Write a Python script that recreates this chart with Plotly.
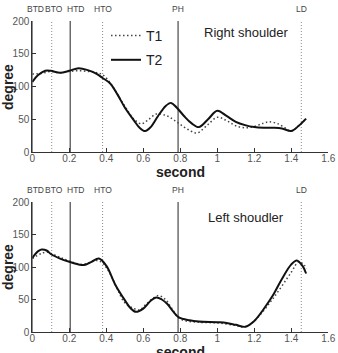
import plotly.graph_objects as go

# ---- data ----
events = ["BTD", "BTO", "HTD", "HTO", "PH", "LD"]
event_t = [0.0, 0.105, 0.205, 0.38, 0.788, 1.454]
event_solid = [True, False, True, False, True, False]
event_shift = [3, 2, 5, 0, 0, 0]

r_t2_x = [0, 0.03, 0.07, 0.1, 0.15, 0.2, 0.25, 0.3, 0.35, 0.38, 0.42, 0.46, 0.5, 0.55, 0.58, 0.61,
          0.64, 0.68, 0.72, 0.75, 0.78, 0.82, 0.86, 0.9, 0.95, 1.0, 1.05, 1.1, 1.15, 1.2, 1.25, 1.3,
          1.35, 1.4, 1.44, 1.48]
r_t2_y = [107, 117, 124, 124, 121, 124, 128, 125, 119, 113, 105, 88, 68, 48, 37, 32,
          38, 55, 70, 75, 68, 55, 44, 38, 50, 63, 55, 46, 41, 38, 37, 37,
          36, 32, 40, 51]
r_t1_x = [0, 0.05, 0.1, 0.15, 0.2, 0.25, 0.3, 0.35, 0.38, 0.42, 0.46, 0.5, 0.55, 0.59, 0.63, 0.67,
          0.72, 0.76, 0.8, 0.85, 0.89, 0.95, 1.0, 1.05, 1.1, 1.15, 1.2, 1.25, 1.28, 1.32, 1.36, 1.4,
          1.44, 1.48]
r_t1_y = [119, 120, 123, 121, 123, 124, 123, 121, 118, 106, 88, 70, 50, 43, 50, 58,
          56, 50, 42, 33, 29, 42, 53, 48, 40, 37, 39, 44, 46, 44, 38, 32,
          40, 51]

l_t2_x = [0, 0.03, 0.05, 0.08, 0.1, 0.15, 0.2, 0.25, 0.28, 0.32, 0.36, 0.4, 0.45, 0.5, 0.53, 0.56,
          0.6, 0.64, 0.67, 0.7, 0.73, 0.76, 0.79, 0.85, 0.9, 1.0, 1.05, 1.1, 1.15, 1.2, 1.25, 1.3,
          1.35, 1.4, 1.43, 1.46, 1.48]
l_t2_y = [114, 124, 127, 125, 120, 113, 108, 104, 103, 108, 113, 102, 72, 49, 37, 31,
          36, 48, 53, 50, 43, 32, 23, 18, 16, 15, 14, 11, 8, 17, 35, 56,
          82, 104, 110, 102, 90]
l_t1_x = [0, 0.05, 0.08, 0.1, 0.15, 0.2, 0.27, 0.35, 0.38, 0.42, 0.46, 0.5, 0.55, 0.58, 0.62, 0.68,
          0.72, 0.75, 0.8, 0.9, 1.0, 1.1, 1.15, 1.2, 1.3, 1.4, 1.44, 1.47, 1.48]
l_t1_y = [113, 121, 123, 121, 115, 109, 104, 110, 106, 90, 66, 45, 36, 34, 44, 56,
          50, 38, 20, 15, 14, 10, 8, 17, 51, 92, 108, 103, 97]

panel_titles = ["Right shoulder", "Left shoudler"]
x_title = "second"
y_title = "degree"
x_ticks = [0, 0.2, 0.4, 0.6, 0.8, 1, 1.2, 1.4, 1.6]
x_tick_text = ["0", "0.2", "0.4", "0.6", "0.8", "1", "1.2", "1.4", "1.6"]
y_ticks = [0, 50, 100, 150, 200]

# ---- figure ----
FONT = "Liberation Sans, Arial, sans-serif"
fig = go.Figure()
solid = dict(color="#111111", width=2)
dotted = dict(color="#444444", width=1.5, dash="1.5px,2.5px")

fig.add_trace(go.Scatter(x=r_t1_x, y=r_t1_y, mode="lines", line=dotted, line_shape="spline",
                         name="T1", legendgroup="a", xaxis="x", yaxis="y"))
fig.add_trace(go.Scatter(x=r_t2_x, y=r_t2_y, mode="lines", line=solid, line_shape="spline",
                         name="T2", legendgroup="b", xaxis="x", yaxis="y"))
fig.add_trace(go.Scatter(x=l_t1_x, y=l_t1_y, mode="lines", line=dotted, line_shape="spline",
                         name="T1", showlegend=False, xaxis="x2", yaxis="y2"))
fig.add_trace(go.Scatter(x=l_t2_x, y=l_t2_y, mode="lines", line=solid, line_shape="spline",
                         name="T2", showlegend=False, xaxis="x2", yaxis="y2"))

xdom = [32.3 / 338, 328.3 / 338]
ydom_top = [1 - 152 / 353, 1 - 21 / 353]
ydom_bot = [1 - 332 / 353, 1 - 202 / 353]

axis_common = dict(showline=True, linecolor="#333333", linewidth=1, mirror=False,
                   ticks="inside", ticklen=4, tickcolor="#333333", showgrid=False,
                   zeroline=False, tickfont=dict(family=FONT, size=10, color="#555555"),
                   automargin=False)
xa_extra = dict(ticklabelstandoff=-3)

fig.update_layout(
    width=338, height=353, margin=dict(l=0, r=0, t=0, b=0),
    paper_bgcolor="white", plot_bgcolor="white",
    xaxis=dict(domain=xdom, range=[0, 1.6], tickvals=x_ticks, ticktext=x_tick_text,
               anchor="y", **axis_common, **xa_extra),
    yaxis=dict(domain=ydom_top, range=[0, 200], tickvals=y_ticks, anchor="x", **axis_common),
    xaxis2=dict(domain=xdom, range=[0, 1.6], tickvals=x_ticks, ticktext=x_tick_text,
                anchor="y2", **axis_common, **xa_extra),
    yaxis2=dict(domain=ydom_bot, range=[0, 200], tickvals=y_ticks, anchor="x2", **axis_common),
    showlegend=True,
    legend=dict(x=106 / 338, y=1 - 20 / 353, xanchor="left", yanchor="top",
                bgcolor="rgba(0,0,0,0)", font=dict(family=FONT, size=14, color="#222222"),
                tracegroupgap=3),
)

title_font = dict(family=FONT, size=14, color="#222222")
for xa, ya, yt, ttl, ty, sy, dy in [
        ("x", "y", 1 - 9 / 353, panel_titles[0], 1 - 33 / 353, 1 - 172 / 353, 1 - 87 / 353),
        ("x2", "y2", 1 - 190 / 353, panel_titles[1], 1 - 217 / 353, 1 - 352 / 353, 1 - 267 / 353)]:
    for name, t, s, sh in zip(events, event_t, event_solid, event_shift):
        fig.add_shape(type="line", xref=xa, yref=f"{ya} domain", x0=t, x1=t, y0=0, y1=1,
                      line=dict(color="#555555" if s else "#8a8a8a", width=1.3 if s else 1,
                                dash="solid" if s else "1px,2px"), layer="below")
        fig.add_annotation(x=t, xref=xa, y=yt, yref="paper", text=name, showarrow=False,
                           xshift=sh, xanchor="center", yanchor="middle",
                           font=dict(family=FONT, size=8.5, color="#444444"))
    fig.add_annotation(x=246 / 338, y=ty, xref="paper", yref="paper", text=ttl, showarrow=False,
                       xanchor="center", yanchor="middle",
                       font=dict(family=FONT, size=13, color="#222222"))
    fig.add_annotation(x=180 / 338, y=sy, xref="paper", yref="paper", text=f"<b>{x_title}</b>",
                       showarrow=False, xanchor="center", yanchor="middle", font=title_font)
    fig.add_annotation(x=8 / 338, y=dy, xref="paper", yref="paper", text=f"<b>{y_title}</b>",
                       showarrow=False, xanchor="center", yanchor="middle", textangle=-90,
                       font=title_font)

fig.write_html("out.html")
